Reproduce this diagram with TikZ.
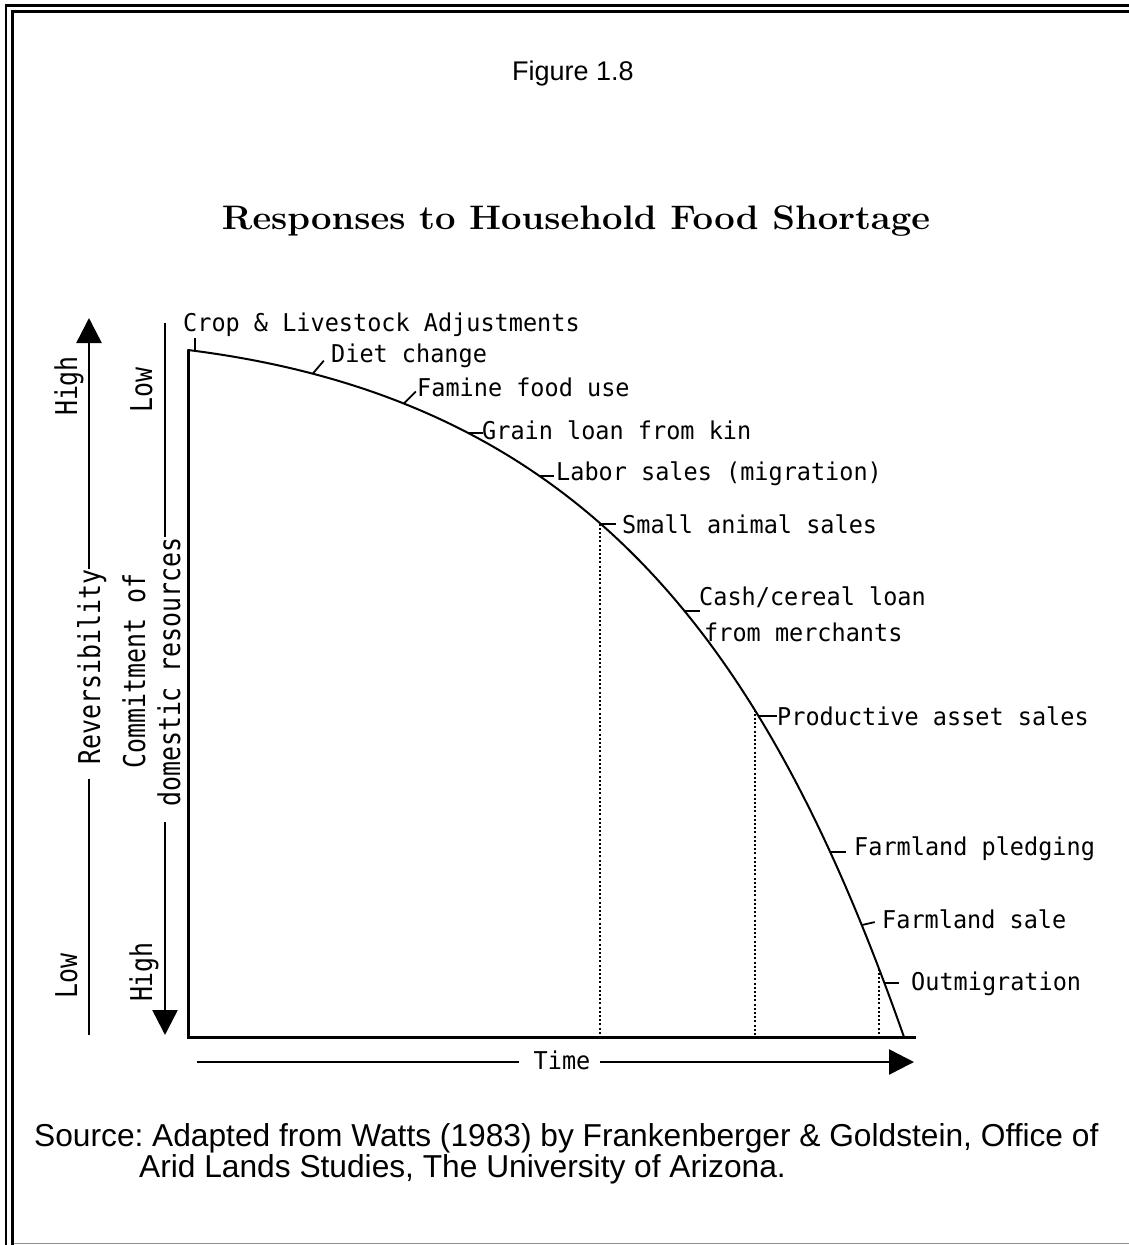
\documentclass[tikz,border=0pt]{standalone}
\usepackage{fontspec}
\usepackage{graphicx}
\usetikzlibrary{arrows.meta}
\newfontfamily\capfont{Liberation Sans}
\newfontfamily\labelfont[FakeStretch=0.96]{DejaVu Sans Mono}
\newfontfamily\sidefont[FakeStretch=0.83]{DejaVu Sans Mono}
\frenchspacing

\tikzset{
  lbl/.style={font=\labelfont\fontsize{24.5pt}{24.5pt}\selectfont, inner sep=0pt,
              text height=18pt, text depth=0pt, anchor=west},
  side/.style={font=\sidefont\fontsize{30pt}{30pt}\selectfont, inner sep=0pt,
               text height=22pt, text depth=0pt, rotate=90},
  sans/.style={font=\capfont\fontsize{31.7pt}{31.7pt}\selectfont, inner sep=0pt},
  axisline/.style={line width=2.5pt},
  frameline/.style={line width=3pt},
  curveline/.style={line width=2pt, line join=round, line cap=round},
  tickline/.style={line width=1.8pt},
  dropline/.style={line width=2pt, dash pattern=on 2pt off 2.2pt},
  tip/.style={-{Triangle[length=25pt,width=25pt]}},
}

\begin{document}
\begin{tikzpicture}[x=1pt,y=-1pt]
  \fill[white] (0,0) rectangle (1129,1245);
  \useasboundingbox (0,0) rectangle (1129,1245);

  % double page rule on the left and top, thin rule at the bottom
  \draw[line width=2.4pt] (6,1245) -- (6,5.5) -- (1129,5.5);
  \draw[line width=3pt] (12.5,1245) -- (12.5,11.5) -- (1129,11.5);
  \draw[black!45, line width=1pt] (14,1243.5) -- (1129,1243.5);

  % headings
  \node[font=\capfont\fontsize{27pt}{27pt}\selectfont, anchor=base, inner sep=0pt] (fig) at (573,80) {Figure 1.8};
  \node[anchor=base, inner sep=0pt] (title) at (576,229)
    {\resizebox{708pt}{\height}{\fontsize{34pt}{34pt}\selectfont\bfseries Responses to Household Food Shortage}};

  % plot frame
  \coordinate (o) at (188,1037);
  \coordinate (ytop) at (188,350);
  \coordinate (xend) at (916,1037);
  \draw[frameline] (ytop) -- (o) -- (xend);

  % response curve, with the points where the responses are marked
  \draw[curveline] (ytop) .. controls (590,400) and (768,650) .. (904,1037)
    coordinate[pos=0.006] (k1)
    coordinate[pos=0.11]  (k2)
    coordinate[pos=0.20]  (k3)
    coordinate[pos=0.27]  (k4)
    coordinate[pos=0.355] (k5)
    coordinate[pos=0.435] (k6)
    coordinate[pos=0.56]  (k7)
    coordinate[pos=0.68]  (d2)
    coordinate[pos=0.687] (k8)
    coordinate[pos=0.83]  (k9)
    coordinate[pos=0.90]  (k10)
    coordinate[pos=0.94]  (d3)
    coordinate[pos=0.953] (k11);

  % drop lines from the curve to the time axis
  \draw[dropline] (k6) -- (k6 |- o);
  \draw[dropline] (d2) -- (d2 |- o);
  \draw[dropline] (d3) -- (d3 |- o);

  % curve labels with their ticks
  \node[lbl] (crop) at (183,322) {Crop \& Livestock Adjustments};
  \draw[tickline] (k1) -- ++(0,-13);

  \node[lbl] (diet) at (331,353) {Diet change};
  \draw[tickline] (k2) -- ++(11,-13);

  \node[lbl] (famine) at (417,387) {Famine food use};
  \draw[tickline] (k3) -- ++(12,-12);

  \node[lbl] (grain) at (482,430) {Grain loan from kin};
  \draw[tickline] (k4) -- ++(15,0);

  \node[lbl] (labor) at (556,471) {Labor sales (migration)};
  \draw[tickline] (k5) -- ++(14,0);

  \node[lbl] (small) at (622,524) {Small animal sales};
  \draw[tickline] (k6) -- ++(16,0);

  \node[lbl] (cash) at (699,596) {Cash/cereal loan};
  \node[lbl] (merch) at (704,632) {from merchants};
  \draw[tickline] (k7) -- ++(15,0);

  \node[lbl] (asset) at (777,716) {Productive asset sales};
  \draw[tickline] (k8) -- ++(19,0);

  \node[lbl] (pledge) at (854,846) {Farmland pledging};
  \draw[tickline] (k9) -- ++(16,0);

  \node[lbl] (sale) at (882,919) {Farmland sale};
  \draw[tickline] (k10) -- ++(13,-3);

  \node[lbl] (outmig) at (911,981) {Outmigration};
  \draw[tickline] (k11) -- ++(14,0);

  % reversibility scale
  \node[side] (high1) at (66,386) {High};
  \node[side] (low1) at (66,976) {Low};
  \node[side] (rev) at (89,667) {Reversibility};
  \coordinate (revtop) at (89,318);
  \coordinate (revbot) at (89,1035);
  \draw[axisline, tip] (rev.east) -- (revtop);
  \draw[axisline] (rev.west) ++(0,14) -- (revbot);

  % commitment scale
  \node[side] (low2) at (141,390) {Low};
  \node[side] (high2) at (141,972) {High};
  \node[side] (commit) at (134,671) {Commitment of};
  \node[side] (domres) at (169,672) {domestic resources};
  \coordinate (comtop) at (165,323);
  \coordinate (combot) at (165,1035);
  \draw[axisline] (comtop) -- (domres.east -| comtop);
  \draw[axisline, tip] (domres.west -| comtop) ++(0,15) -- (combot);

  % time axis
  \node[lbl, anchor=center] (time) at (562,1060) {Time};
  \coordinate (tstart) at (197,1062);
  \coordinate (tl) at (519,1062);
  \coordinate (tr) at (600,1062);
  \coordinate (tend) at (914,1062);
  \draw[axisline] (tstart) -- (tl);
  \draw[axisline, tip] (tr) -- (tend);

  % source note
  \node[sans, anchor=base west] (src1) at (34,1146)
    {Source: Adapted from Watts (1983) by Frankenberger \& Goldstein, Office of};
  \node[sans, anchor=base west] (src2) at (139,1177)
    {Arid Lands Studies, The University of Arizona.};
\end{tikzpicture}
\end{document}
